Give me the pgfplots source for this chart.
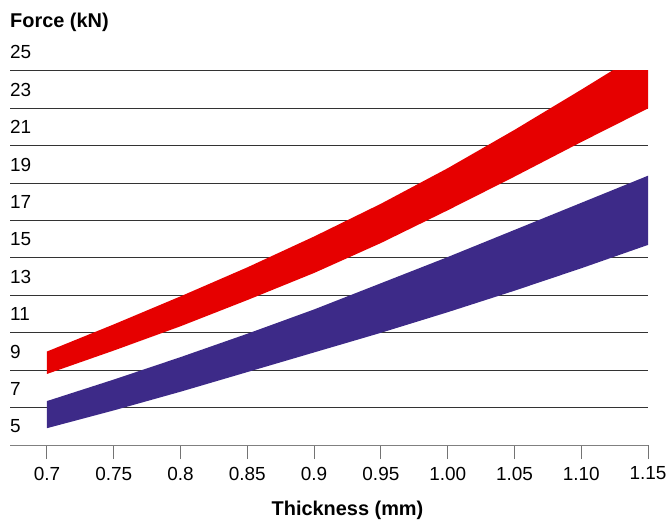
\documentclass[border=0pt]{standalone}
\usepackage{fontspec}
\setmainfont{Liberation Sans}
\usepackage{pgfplots}
\pgfplotsset{compat=1.18}
\definecolor{bandred}{RGB}{230,0,0}
\definecolor{bandblue}{RGB}{61,42,136}
\newcommand{\tickfont}{\fontsize{19}{22}\selectfont}
\newcommand{\labfont}{\fontsize{20}{24}\selectfont\bfseries}
\begin{document}
\begin{tikzpicture}
\begin{axis}[
  at={(0,0)}, anchor=south west,
  scale only axis, width=638bp, height=374bp,
  xmin=0.6723, xmax=1.15, ymin=4, ymax=24,
  clip mode=individual,
  axis line style={draw=none},
  ytick={6,8,...,24}, yticklabels={}, ytick style={draw=none},
  ymajorgrids, grid style={black!80, line width=1bp},
  extra y ticks={4}, extra y tick labels={},
  extra y tick style={grid style={black!50, line width=1bp}, ytick style={draw=none}},
  xtick={0.7,0.75,0.8,0.85,0.9,0.95,1.0,1.05,1.1,1.15},
  xticklabels={0.7,0.75,0.8,0.85,0.9,0.95,1.00,1.05,1.10,1.15},
  xtick pos=left, tick align=outside, major tick length=14bp,
  xtick style={black!55, line width=1bp},
  /pgf/number format/assume math mode=true,
  xticklabel style={font=\tickfont, inner sep=0pt, anchor=north, yshift=-21.7bp+14bp},
  xlabel={Thickness (mm)},
  xlabel style={font=\labfont, at={(rel axis cs:0.529,0)}, anchor=base, yshift=-70bp, inner sep=0pt},
  ylabel={Force (kN)},
  ylabel style={font=\labfont, rotate=-90, at={(rel axis cs:0,1)}, anchor=base west, yshift=43.7bp, xshift=0bp, inner sep=0pt},
]
\addplot[fill=bandred, draw=none] coordinates {
 (0.70,9.0) (0.75,10.45) (0.80,11.95) (0.85,13.5) (0.90,15.15)
 (0.95,16.9) (1.00,18.8) (1.05,20.85) (1.10,23.0) (1.15,25.2)
 (1.15,22.0) (1.10,20.2) (1.05,18.35) (1.00,16.55) (0.95,14.8)
 (0.90,13.2) (0.85,11.75) (0.80,10.35) (0.75,9.05) (0.70,7.8)
} -- cycle;
\addplot[fill=bandblue, draw=none] coordinates {
 (0.70,6.35) (0.75,7.5) (0.80,8.7) (0.85,9.95) (0.90,11.25)
 (0.95,12.65) (1.00,14.05) (1.05,15.5) (1.10,16.95) (1.15,18.4)
 (1.15,14.7) (1.10,13.45) (1.05,12.25) (1.00,11.1) (0.95,10.0)
 (0.90,8.95) (0.85,7.9) (0.80,6.85) (0.75,5.85) (0.70,4.9)
} -- cycle;
\pgfplotsinvokeforeach{5,7,9,11,13,15,17,19,21,23,25}{
  \node[anchor=west, inner sep=0pt, font=\tickfont] at (axis cs:0.6723,#1) {#1};
}
\end{axis}
\pgfresetboundingbox
\path[use as bounding box] (-10bp,-77bp) rectangle (662bp,445bp);
\end{tikzpicture}
\end{document}
